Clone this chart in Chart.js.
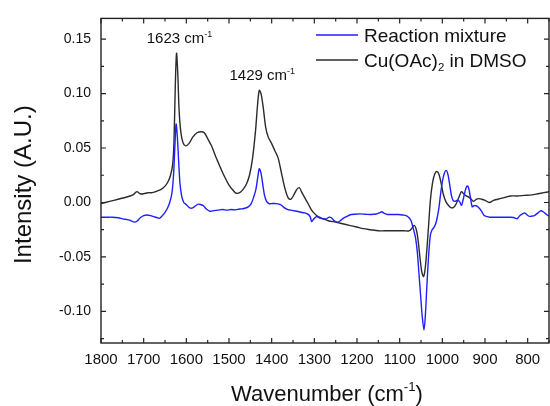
<!DOCTYPE html>
<html>
<head>
<meta charset="utf-8">
<script src="https://cdn.jsdelivr.net/npm/chart.js@4.4.0/dist/chart.umd.min.js"></script>
<style>
  html, body { margin: 0; padding: 0; background: #fff; }
  #wrap { width: 550px; height: 406px; }
</style>
</head>
<body>
<div id="wrap"><canvas id="ftir"></canvas></div>
<script>
// wavenumbers (cm-1) and intensities
const cuWn = [1800, 1780, 1760, 1740, 1725, 1716, 1708, 1700, 1690, 1680, 1672, 1659, 1650, 1643, 1637, 1632, 1629, 1626, 1623, 1620,
  1617, 1613, 1608, 1602, 1594, 1585, 1575, 1565, 1558, 1549, 1541, 1530, 1520, 1512, 1500, 1490, 1483, 1475, 1467, 1459,
  1452, 1445, 1438, 1433, 1429, 1425, 1420, 1414, 1408, 1400, 1393, 1385, 1377, 1369, 1361, 1355, 1348, 1341, 1335, 1329,
  1322, 1316, 1308, 1300, 1291, 1280, 1266, 1250, 1234, 1218, 1201, 1185, 1168, 1150, 1136, 1120, 1103, 1090, 1078, 1072,
  1066, 1061, 1057, 1052, 1048, 1044, 1040, 1036, 1032, 1028, 1023, 1018, 1013, 1008, 1003, 998, 992, 985, 978, 972,
  966, 960, 955, 950, 944, 938, 932, 927, 920, 914, 908, 900, 890, 880, 870, 860, 850, 840, 825, 808,
  790, 776, 762, 750];
const cuDmso = [-0.001, 0.001, 0.003, 0.005, 0.007, 0.010, 0.008, 0.008, 0.009, 0.009, 0.010, 0.012, 0.015, 0.019, 0.025, 0.035, 0.055, 0.105, 0.137, 0.118,
  0.085, 0.065, 0.055, 0.052, 0.054, 0.060, 0.064, 0.065, 0.064, 0.058, 0.052, 0.041, 0.032, 0.025, 0.016, 0.011, 0.0085, 0.009, 0.012, 0.017,
  0.025, 0.040, 0.065, 0.090, 0.103, 0.100, 0.088, 0.069, 0.060, 0.054, 0.048, 0.041, 0.027, 0.013, 0.004, 0.003, 0.007, 0.012, 0.0135, 0.009,
  0.004, 0.000, -0.006, -0.010, -0.013, -0.015, -0.017, -0.018, -0.0195, -0.021, -0.0225, -0.024, -0.025, -0.026, -0.026, -0.026, -0.026, -0.026, -0.026, -0.024,
  -0.021, -0.025, -0.034, -0.052, -0.064, -0.068, -0.060, -0.042, -0.020, 0.002, 0.018, 0.026, 0.0285, 0.026, 0.018, 0.008, 0.001, -0.003, -0.005, -0.004,
  0.000, 0.006, 0.010, 0.008, 0.006, 0.005, 0.003, 0.001, 0.003, 0.0035, 0.003, 0.002, 0.000, 0.002, 0.003, 0.004, 0.005, 0.006, 0.006, 0.0065,
  0.007, 0.008, 0.009, 0.0098];

const mixWn = [1800, 1785, 1774, 1760, 1749, 1735, 1722, 1715, 1708, 1700, 1692, 1684, 1676, 1668, 1663, 1656, 1650, 1644, 1639, 1634,
  1630, 1627, 1624, 1621, 1618, 1615, 1611, 1606, 1600, 1592, 1585, 1578, 1572, 1566, 1560, 1553, 1545, 1535, 1525, 1515,
  1505, 1495, 1485, 1475, 1465, 1455, 1448, 1442, 1437, 1433, 1429, 1425, 1421, 1417, 1412, 1406, 1398, 1390, 1383, 1377,
  1370, 1362, 1355, 1348, 1340, 1332, 1323, 1316, 1310, 1306, 1301, 1295, 1288, 1280, 1272, 1265, 1260, 1254, 1246, 1240,
  1234, 1225, 1217, 1205, 1193, 1180, 1168, 1155, 1147, 1142, 1136, 1128, 1115, 1103, 1092, 1085, 1078, 1073, 1068, 1063,
  1059, 1055, 1051, 1047, 1043, 1040, 1036, 1032, 1028, 1024, 1020, 1016, 1012, 1008, 1004, 1000, 996, 991, 987, 983,
  979, 975, 970, 965, 960, 955, 951, 947, 943, 940, 937, 934, 930, 926, 921, 915, 908, 902, 895, 890,
  880, 866, 850, 840, 833, 828, 825, 818, 810, 806, 801, 796, 790, 784, 776, 769, 762, 756, 750];
const mixture = [-0.0135, -0.0135, -0.0135, -0.014, -0.015, -0.016, -0.018, -0.017, -0.014, -0.012, -0.0115, -0.012, -0.013, -0.014, -0.0145, -0.012, -0.009, -0.005, 0.000, 0.008,
  0.025, 0.050, 0.072, 0.060, 0.038, 0.018, 0.006, 0.000, -0.002, -0.005, -0.005, -0.003, -0.0015, -0.002, -0.003, -0.006, -0.008, -0.0075, -0.007, -0.0065,
  -0.007, -0.0065, -0.0068, -0.006, -0.0055, -0.004, -0.001, 0.005, 0.012, 0.022, 0.031, 0.027, 0.017, 0.007, 0.001, -0.001, -0.001, -0.001, -0.0015, -0.0025,
  -0.005, -0.0065, -0.007, -0.0076, -0.008, -0.009, -0.0095, -0.0105, -0.013, -0.0176, -0.015, -0.013, -0.014, -0.015, -0.015, -0.0135, -0.014, -0.0167, -0.018, -0.017,
  -0.015, -0.013, -0.0115, -0.0108, -0.0105, -0.0108, -0.011, -0.0106, -0.0095, -0.0085, -0.010, -0.011, -0.011, -0.011, -0.0115, -0.012, -0.014, -0.017, -0.024, -0.032,
  -0.044, -0.064, -0.085, -0.105, -0.117, -0.105, -0.075, -0.048, -0.030, -0.025, -0.023, -0.020, -0.014, -0.005, 0.008, 0.019, 0.026, 0.0295, 0.026, 0.017,
  0.007, 0.002, 0.001, 0.002, 0.001, -0.0025, 0.003, 0.010, 0.0145, 0.015, 0.011, 0.004, -0.004, -0.003, -0.003, -0.0045, -0.008, -0.012, -0.013, -0.0135,
  -0.0135, -0.0136, -0.0136, -0.0136, -0.0138, -0.0145, -0.015, -0.012, -0.010, -0.0098, -0.0115, -0.0127, -0.0125, -0.012, -0.0095, -0.0076, -0.009, -0.011, -0.0125];

const xTicks = [1800, 1700, 1600, 1500, 1400, 1300, 1200, 1100, 1000, 900, 800];
const yTicks = [-0.10, -0.05, 0.00, 0.05, 0.10, 0.15];
const peaks = [1623, 1429];
const seriesNames = ['Reaction mixture', 'Cu(OAc)2 in DMSO'];
const seriesColors = ['#1f1fff', '#2b2b2b'];

const FONT = 'Arial, "Liberation Sans", sans-serif';
const INK = '#222';

function pairs(xs, ys) {
  return xs.map((x, i) => ({ x: x, y: ys[i] }));
}

// text with a raised or lowered small part, e.g. cm^-1, (OAc)_2
function drawRich(ctx, parts, x, y, size, align) {
  let total = 0;
  parts.forEach(p => {
    ctx.font = (p.small ? size * 0.6 : size) + 'px ' + FONT;
    total += ctx.measureText(p.t).width;
  });
  let cx = align === 'center' ? x - total / 2 : x;
  ctx.textAlign = 'left';
  ctx.textBaseline = 'alphabetic';
  parts.forEach(p => {
    const s = p.small ? size * 0.6 : size;
    ctx.font = s + 'px ' + FONT;
    let dy = 0;
    if (p.small === 'sup') dy = -size * 0.45;
    if (p.small === 'sub') dy = size * 0.22;
    ctx.fillText(p.t, cx, y + dy);
    cx += ctx.measureText(p.t).width;
  });
}

const framePlugin = {
  id: 'frame',
  afterDraw(chart) {
    const ctx = chart.ctx;
    const a = chart.chartArea;
    const xs = chart.scales.x;
    const ys = chart.scales.y;
    ctx.save();
    ctx.strokeStyle = INK;
    ctx.lineWidth = 1.4;
    ctx.strokeRect(a.left, a.top, a.right - a.left, a.bottom - a.top);

    // inward ticks on all four sides, minor ticks halfway
    ctx.lineWidth = 1.2;
    ctx.beginPath();
    for (let v = 750; v <= 1800; v += 50) {
      const px = xs.getPixelForValue(v);
      const len = v % 100 === 0 ? 5 : 3;
      ctx.moveTo(px, a.bottom); ctx.lineTo(px, a.bottom - len);
      ctx.moveTo(px, a.top); ctx.lineTo(px, a.top + len);
    }
    for (let i = -5; i <= 6; i++) {
      const v = i * 0.025;
      const py = ys.getPixelForValue(v);
      if (py < a.top || py > a.bottom) continue;
      const len = i % 2 === 0 ? 5 : 3;
      ctx.moveTo(a.left, py); ctx.lineTo(a.left + len, py);
      ctx.moveTo(a.right, py); ctx.lineTo(a.right - len, py);
    }
    ctx.stroke();

    ctx.fillStyle = '#111';
    // axis titles
    drawRich(ctx, [{ t: 'Wavenumber (cm' }, { t: '-1', small: 'sup' }, { t: ')' }],
      (a.left + a.right) / 2 + 2, 401, 22, 'center');
    ctx.save();
    ctx.translate(31, (a.top + a.bottom) / 2 + 4);
    ctx.rotate(-Math.PI / 2);
    ctx.font = '24px ' + FONT;
    ctx.textAlign = 'center';
    ctx.textBaseline = 'alphabetic';
    ctx.fillText('Intensity (A.U.)', 0, 0);
    ctx.restore();

    // peak labels above the DMSO peaks
    peaks.forEach(wn => {
      const i = cuWn.indexOf(wn);
      const px = xs.getPixelForValue(wn);
      const py = ys.getPixelForValue(cuDmso[i]);
      drawRich(ctx, [{ t: wn + ' cm' }, { t: '-1', small: 'sup' }], px + 3, py - 10, 15, 'center');
    });

    // legend
    const lx = 316, ly = [35, 60];
    seriesNames.forEach((name, k) => {
      ctx.strokeStyle = seriesColors[k];
      ctx.lineWidth = 1.3;
      ctx.beginPath();
      ctx.moveTo(lx, ly[k]); ctx.lineTo(lx + 42, ly[k]);
      ctx.stroke();
      ctx.fillStyle = '#111';
      const parts = k === 0 ? [{ t: name }] : [{ t: 'Cu(OAc)' }, { t: '2', small: 'sub' }, { t: ' in DMSO' }];
      drawRich(ctx, parts, lx + 48, ly[k] + 7, 19, 'left');
    });
    ctx.restore();
  }
};

new Chart(document.getElementById('ftir').getContext('2d'), {
  type: 'line',
  data: {
    datasets: [
      { label: seriesNames[0], data: pairs(mixWn, mixture), borderColor: seriesColors[0], borderWidth: 1.4, pointRadius: 0, tension: 0.3 },
      { label: seriesNames[1], data: pairs(cuWn, cuDmso), borderColor: seriesColors[1], borderWidth: 1.4, pointRadius: 0, tension: 0.3 }
    ]
  },
  options: {
    responsive: true,
    maintainAspectRatio: false,
    animation: false,
    layout: { padding: { top: 13, right: 1, left: 0, bottom: 0 } },
    plugins: { legend: { display: false }, tooltip: { enabled: false } },
    scales: {
      x: {
        type: 'linear',
        reverse: true,
        min: 750,
        max: 1800,
        grid: { display: false, drawTicks: false },
        border: { display: false },
        afterBuildTicks: s => { s.ticks = xTicks.map(v => ({ value: v })); },
        afterFit: s => { s.height = 63; },
        ticks: { padding: 8, color: '#111', font: { family: FONT, size: 15 }, maxRotation: 0, callback: v => String(v) }
      },
      y: {
        min: -0.129,
        max: 0.169,
        grid: { display: false, drawTicks: false },
        border: { display: false },
        afterBuildTicks: s => { s.ticks = yTicks.map(v => ({ value: v })); },
        afterFit: s => { s.width = 101; },
        ticks: { padding: 10, color: '#111', font: { family: FONT, size: 14 }, callback: v => v.toFixed(2) }
      }
    }
  },
  plugins: [framePlugin]
});
</script>
</body>
</html>
